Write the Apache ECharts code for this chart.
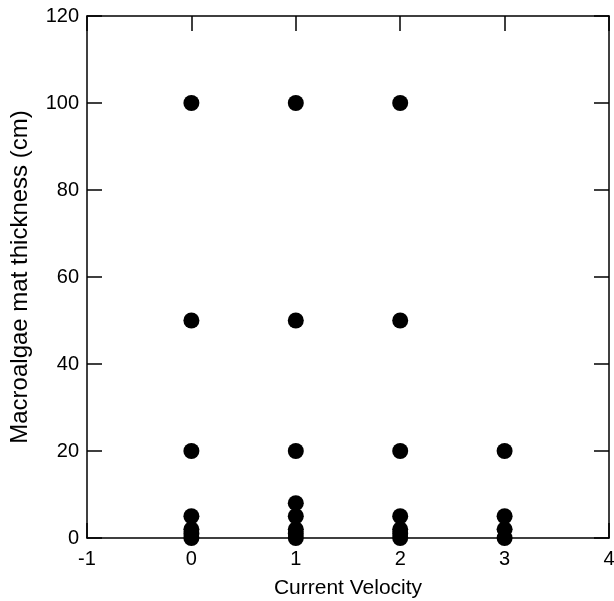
<!DOCTYPE html>
<html><head><meta charset="utf-8">
<script src="https://cdn.jsdelivr.net/npm/echarts@6/dist/echarts.min.js"></script>
<style>html,body{margin:0;padding:0;background:#fff}#c{width:614px;height:601px}</style>
</head><body><div id="c"></div>
<script>
const velocity0 = [0, 0, 0, 0, 0, 0, 0];
const thickness0 = [100, 50, 20, 5, 2, 1, 0];
const velocity1 = [1, 1, 1, 1, 1, 1, 1, 1];
const thickness1 = [100, 50, 20, 8, 5, 2, 1, 0];
const velocity2 = [2, 2, 2, 2, 2, 2, 2];
const thickness2 = [100, 50, 20, 5, 2, 1, 0];
const velocity3 = [3, 3, 3, 3];
const thickness3 = [20, 5, 2, 0];
const xs = velocity0.concat(velocity1, velocity2, velocity3);
const ys = thickness0.concat(thickness1, thickness2, thickness3);
const points = xs.map((x, i) => [x, ys[i]]);

const chart = echarts.init(document.getElementById('c'));
const font = 'Liberation Sans, Arial, sans-serif';
const axisCommon = {
  axisLine: {show: true, onZero: false, lineStyle: {color: '#000', width: 1.5}},
  axisTick: {show: true, inside: true, length: 15, lineStyle: {color: '#000', width: 1.5}},
  splitLine: {show: false},
  axisLabel: {color: '#000', fontSize: 20, fontFamily: font}
};
chart.setOption({
  animation: false,
  grid: {left: 87, right: 5, top: 16, bottom: 63, containLabel: false, outerBoundsMode: 'none'},
  xAxis: [
    Object.assign({}, axisCommon, {type: 'value', min: -1, max: 4, interval: 1,
      name: 'Current Velocity', nameLocation: 'middle', nameGap: 40,
      nameTextStyle: {color: '#000', fontSize: 21, fontFamily: font},
      axisLabel: Object.assign({}, axisCommon.axisLabel, {margin: 11})}),
    Object.assign({}, axisCommon, {type: 'value', position: 'top', min: -1, max: 4, interval: 1,
      axisLabel: {show: false}})
  ],
  yAxis: [
    Object.assign({}, axisCommon, {type: 'value', min: 0, max: 120, interval: 20,
      name: 'Macroalgae mat thickness (cm)', nameLocation: 'middle', nameGap: 55,
      nameTextStyle: {color: '#000', fontSize: 24, fontFamily: font},
      axisLabel: Object.assign({}, axisCommon.axisLabel, {margin: 8})}),
    Object.assign({}, axisCommon, {type: 'value', position: 'right', min: 0, max: 120, interval: 20,
      axisLabel: {show: false}})
  ],
  series: [{
    type: 'scatter', data: points, symbol: 'circle', symbolSize: 16,
    itemStyle: {color: '#000', opacity: 1}
  }]
});
</script></body></html>
